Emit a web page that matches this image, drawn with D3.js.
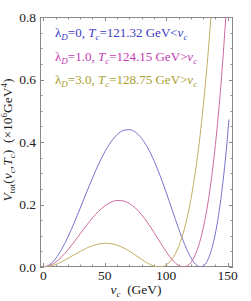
<!DOCTYPE html>
<html><head><meta charset="utf-8">
<script src="https://cdn.jsdelivr.net/npm/d3@7"></script>
<style>
html,body{margin:0;padding:0;background:#fff;}
svg{display:block;}
</style></head>
<body><svg id="c" width="251" height="301" font-family="'Liberation Serif', 'Times New Roman', 'DejaVu Serif', serif"></svg>
<script>
// data (v_c in GeV, V in 1e6 GeV^4)
const vBlue = [0,5,10,15,20,25,30,35,40,45,50,55,60,65,70,75,80,85,90,95,100,105,110,115,120,125,128,130,135,140,145,150,151];
const yBlue = [0,0.0071,0.0269,0.0573,0.0959,0.1403,0.1882,0.2371,0.2849,0.3293,0.3684,0.4003,0.4236,0.4370,0.4396,0.4311,0.4113,0.3808,0.3406,0.2922,0.2379,0.1806,0.1238,0.0719,0.0302,0.0047,0,0.0025,0.0340,0.1080,0.2350,0.4250,0.4720];
const vMag = [0,5,10,15,20,25,30,35,40,45,50,55,60,65,70,75,80,85,90,95,100,105,110,114,115,120,125,130,135,140,145,148.5];
const yMag = [0,0.0041,0.0156,0.0331,0.0551,0.0801,0.1065,0.1326,0.1571,0.1785,0.1955,0.2072,0.2127,0.2114,0.2032,0.1883,0.1671,0.1408,0.1108,0.0793,0.0488,0.0228,0.0050,0,0.0004,0.0141,0.0526,0.1229,0.2330,0.3919,0.6094,0.8023];
const vOli = [0,5,10,15,20,25,30,35,40,45,50,55,60,65,70,75,80,85,90,94.3,95,100,105,110,115,120,125,130,135,136.3];
const yOli = [0,0.0022,0.0081,0.0168,0.0274,0.0387,0.0500,0.0600,0.0682,0.0737,0.0760,0.0747,0.0699,0.0617,0.0507,0.0378,0.0243,0.0119,0.0029,0,0.0001,0.0067,0.0267,0.0646,0.1256,0.2157,0.3416,0.5107,0.7313,0.7982];
const xTicks = [0,50,100,150];
const yTicks = [0.0,0.2,0.4,0.6,0.8];
const series = [
  {v: vBlue, y: yBlue, line: "#7474cc", text: "#3c3cc4", lam: "0", tc: "121.32", rel: "<"},
  {v: vMag, y: yMag, line: "#cc6a9e", text: "#c23cb0", lam: "1.0", tc: "124.15", rel: ">"},
  {v: vOli, y: yOli, line: "#c4ae62", text: "#a89e2c", lam: "3.0", tc: "128.75", rel: ">"}
];

const L = 40, R = 233, T = 17, B = 267;
const svg = d3.select("#c");
const x = d3.scaleLinear().domain([-2.7, 154.3]).range([L, R]);
const y = d3.scaleLinear().domain([0, 0.8]).range([B, T]);

svg.append("defs").append("clipPath").attr("id", "clip")
  .append("rect").attr("x", L).attr("y", T).attr("width", R - L).attr("height", B - T);

const frameCol = "#8a8a8a";
const minorX = d3.range(0, 151, 10).filter(d => !xTicks.includes(d));
const minorY = d3.range(0, 0.801, 0.05).map(d => +d.toFixed(2)).filter(d => !yTicks.some(t => Math.abs(t - d) < 1e-6));
const tg = svg.append("g").attr("stroke", frameCol).attr("stroke-width", 1);
function xt(vals, len) {
  vals.forEach(d => {
    const px = Math.round(x(d)) + 0.5;
    tg.append("line").attr("x1", px).attr("x2", px).attr("y1", B).attr("y2", B - len);
    tg.append("line").attr("x1", px).attr("x2", px).attr("y1", T).attr("y2", T + len);
  });
}
function yt(vals, len) {
  vals.forEach(d => {
    const py = Math.round(y(d)) + 0.5;
    tg.append("line").attr("y1", py).attr("y2", py).attr("x1", L).attr("x2", L + len);
    tg.append("line").attr("y1", py).attr("y2", py).attr("x1", R).attr("x2", R - len);
  });
}
xt(xTicks, 4); xt(minorX, 2.5); yt(yTicks, 4); yt(minorY, 2.5);

svg.append("rect").attr("x", L + 0.5).attr("y", T + 0.5).attr("width", R - L - 1).attr("height", B - T - 1)
  .attr("fill", "none").attr("stroke", frameCol).attr("stroke-width", 1);

// curves
const line = d3.line().curve(d3.curveMonotoneX);
const cg = svg.append("g").attr("clip-path", "url(#clip)");
series.forEach(s => {
  cg.append("path").attr("d", line(s.v.map((v, i) => [x(v), y(s.y[i])])))
    .attr("fill", "none").attr("stroke", s.line).attr("stroke-width", 1);
});

// tick labels
svg.append("g").selectAll("text").data(xTicks).join("text")
  .attr("x", d => x(d)).attr("y", 280).attr("text-anchor", "middle")
  .attr("font-size", 13.5).attr("fill", "#222").text(d => d);
svg.append("g").selectAll("text").data(yTicks).join("text")
  .attr("x", 36).attr("y", d => y(d) + 4.5).attr("text-anchor", "end")
  .attr("font-size", 13.5).attr("fill", "#222").text(d => d.toFixed(1));

// x label
const xl = svg.append("text").attr("x", 136).attr("y", 294).attr("text-anchor", "middle")
  .attr("font-size", 13.5).attr("fill", "#222");
xl.append("tspan").attr("font-style", "italic").text("v");
xl.append("tspan").attr("font-style", "italic").attr("font-size", 9).attr("dy", 3).text("c");
xl.append("tspan").attr("dy", -3).text("\u2002(GeV)");

// y label
const yl = svg.append("text").attr("transform", "translate(12,140) rotate(-90)")
  .attr("text-anchor", "middle").attr("font-size", 13.5).attr("fill", "#222");
yl.append("tspan").attr("font-style", "italic").text("V");
yl.append("tspan").attr("font-size", 9).attr("dy", 3).text("tot");
yl.append("tspan").attr("dy", -3).text("(");
yl.append("tspan").attr("font-style", "italic").text("v");
yl.append("tspan").attr("font-style", "italic").attr("font-size", 9).attr("dy", 3).text("c");
yl.append("tspan").attr("dy", -3).text(",");
yl.append("tspan").attr("font-style", "italic").text("T");
yl.append("tspan").attr("font-style", "italic").attr("font-size", 9).attr("dy", 3).text("c");
yl.append("tspan").attr("dy", -3).text(")\u2002(\u00d710");
yl.append("tspan").attr("font-size", 9).attr("dy", -5).text("6");
yl.append("tspan").attr("dy", 5).text("GeV");
yl.append("tspan").attr("font-size", 9).attr("dy", -5).text("4");
yl.append("tspan").attr("dy", 5).text(")");

// legend
const ly = [37, 61, 84];
series.forEach((s, i) => {
  const t = svg.append("text").attr("x", 55).attr("y", ly[i]).attr("font-size", 13).attr("fill", s.text);
  t.append("tspan").text("\u03bb");
  t.append("tspan").attr("font-style", "italic").attr("font-size", 9).attr("dy", 3).text("D");
  t.append("tspan").attr("dy", -3).text("=" + s.lam + ", ");
  t.append("tspan").attr("font-style", "italic").text("T");
  t.append("tspan").attr("font-style", "italic").attr("font-size", 9).attr("dy", 3).text("c");
  t.append("tspan").attr("dy", -3).text("=" + s.tc + " GeV" + s.rel);
  t.append("tspan").attr("font-style", "italic").text("v");
  t.append("tspan").attr("font-style", "italic").attr("font-size", 9).attr("dy", 3).text("c");
});
</script></body></html>
